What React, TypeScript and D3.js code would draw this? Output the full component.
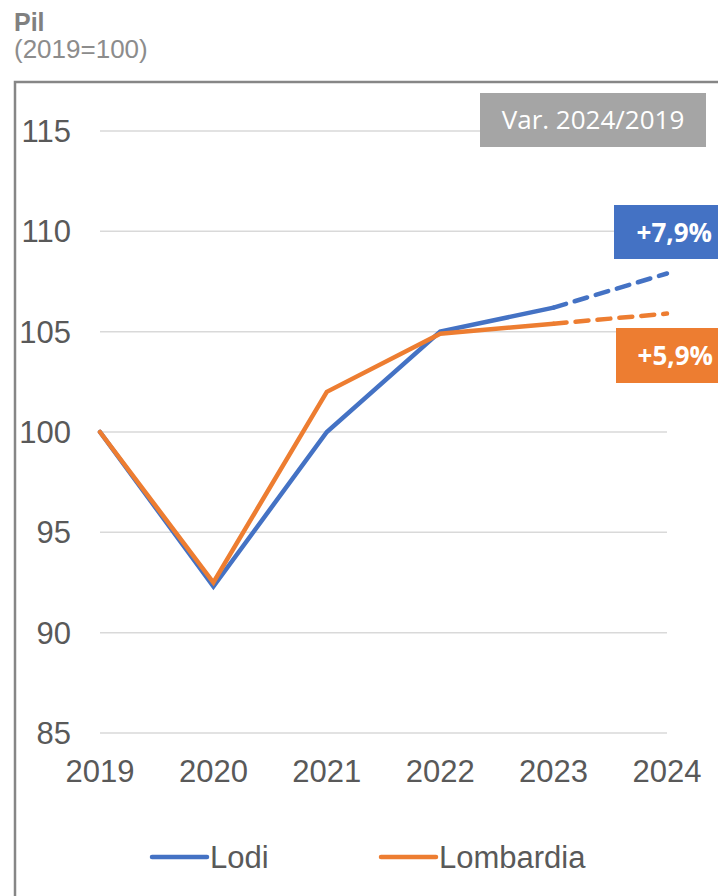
import React from "react";
import * as d3 from "d3";

const years = [2019, 2020, 2021, 2022, 2023, 2024];
const lodi = [100, 92.3, 100, 105, 106.2, 107.9];
const lombardia = [100, 92.5, 102, 104.9, 105.4, 105.9];
const yTicks = [85, 90, 95, 100, 105, 110, 115];
const seriesNames = ["Lodi", "Lombardia"];
const seriesColors = ["#4472C4", "#ED7D31"];
const varLabels = ["+7,9%", "+5,9%"];

const W = 718;
const H = 896;
const axisFont = "'Liberation Sans', Arial, sans-serif";
const boxFont = "'Open Sans', 'Noto Sans', sans-serif";

export default function App() {
  const x = d3.scalePoint<number>().domain(years).range([100, 667]);
  const y = d3.scaleLinear().domain([85, 115]).range([733, 131]);

  const line = d3
    .line<number>()
    .x((_, i) => x(years[i]) as number)
    .y((d) => y(d));

  const series = [lodi, lombardia];
  const last = years.length - 1;

  return (
    <svg
      width={W}
      height={H}
      style={{ position: "absolute", left: 0, top: 0, background: "#fff" }}
    >
      {/* title */}
      <text x={14} y={31} fontFamily={axisFont} fontWeight="bold" fontSize={25} fill="#808080">
        Pil
      </text>
      <text x={14} y={58} fontFamily={axisFont} fontSize={26} fill="#8c8c8c">
        (2019=100)
      </text>

      {/* frame */}
      <path d={`M15,${H + 5}V82H${W + 5}`} fill="none" stroke="#868686" strokeWidth={2.5} />

      {/* grid + y labels */}
      {yTicks.map((t) => (
        <g key={t}>
          <line x1={100} x2={667} y1={y(t)} y2={y(t)} stroke="#d9d9d9" strokeWidth={1.5} />
          <text
            x={71}
            y={y(t)}
            dy="0.36em"
            textAnchor="end"
            fontFamily={axisFont}
            fontSize={31}
            fill="#595959"
          >
            {t}
          </text>
        </g>
      ))}

      {/* x labels */}
      {years.map((yr) => (
        <text
          key={yr}
          x={x(yr)}
          y={782}
          textAnchor="middle"
          fontFamily={axisFont}
          fontSize={31}
          fill="#595959"
        >
          {yr}
        </text>
      ))}

      {/* lines */}
      {series.map((s, k) => (
        <g key={seriesNames[k]}>
          <path
            d={line(s.slice(0, last)) as string}
            fill="none"
            stroke={seriesColors[k]}
            strokeWidth={4.5}
            strokeLinecap="round"
          />
          <path
            d={
              d3
                .line<number>()
                .x((_, i) => x(years[last - 1 + i]) as number)
                .y((d) => y(d))(s.slice(last - 1)) as string
            }
            fill="none"
            stroke={seriesColors[k]}
            strokeWidth={4.5}
            strokeLinecap="round"
            strokeDasharray="13,9"
          />
        </g>
      ))}

      {/* Var. box */}
      <rect x={480} y={93} width={226} height={54} fill="#A5A5A5" />
      <text
        x={593}
        y={129}
        textAnchor="middle"
        fontFamily={boxFont}
        fontSize={26}
        fill="#fff"
      >
        Var. 2024/2019
      </text>

      {/* variation labels */}
      <rect x={614} y={205} width={110} height={54} fill={seriesColors[0]} />
      <text x={712} y={242} textAnchor="end" fontFamily={boxFont} fontWeight="bold" fontSize={26} fill="#fff">
        {varLabels[0]}
      </text>
      <rect x={616} y={328} width={110} height={55} fill={seriesColors[1]} />
      <text x={713} y={365} textAnchor="end" fontFamily={boxFont} fontWeight="bold" fontSize={26} fill="#fff">
        {varLabels[1]}
      </text>

      {/* legend */}
      {seriesNames.map((n, k) => {
        const lx = k === 0 ? 152 : 381;
        return (
          <g key={n}>
            <line
              x1={lx}
              x2={lx + 55}
              y1={857}
              y2={857}
              stroke={seriesColors[k]}
              strokeWidth={4.5}
              strokeLinecap="round"
            />
            <text x={lx + 58} y={868} fontFamily={axisFont} fontSize={31} fill="#595959">
              {n}
            </text>
          </g>
        );
      })}
    </svg>
  );
}
